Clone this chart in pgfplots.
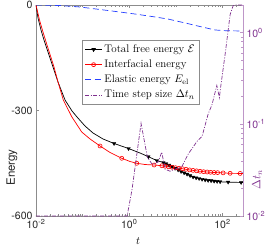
\documentclass[border=0pt]{standalone}
\usepackage{fontspec}
\setsansfont{TeX Gyre Heros}
\usepackage{pgfplots}
\pgfplotsset{compat=1.18}
\definecolor{mpurple}{rgb}{0.494,0.184,0.556}
\definecolor{rpurple}{RGB}{190,150,200}
\definecolor{axgray}{gray}{0.55}
\definecolor{tkgray}{gray}{0.15}
\definecolor{mblue}{rgb}{0.15,0.25,1}
\begin{document}
\begin{tikzpicture}
\path[use as bounding box] (-36pt,-33pt) rectangle (234pt,216pt);
\begin{axis}[
 at={(0pt,0pt)}, anchor=south west, scale only axis, width=207pt, height=211pt,
 xmode=log, xmin=0.01, xmax=275, ymin=-600, ymax=0,
 xtick={0.01,1,100}, xticklabels={10\textsuperscript{-2},10\textsuperscript{0},10\textsuperscript{2}},
 minor xtick={0.02,0.03,0.04,0.05,0.06,0.07,0.08,0.09,0.1,0.2,0.3,0.4,0.5,0.6,0.7,0.8,0.9,2,3,4,5,6,7,8,9,10,20,30,40,50,60,70,80,90,200},
 ytick={-600,-300,0}, yticklabels={-600,-300,0},
 ytick pos=left,
 tick align=inside,
 axis line style={axgray, line width=0.5pt},
 major tick style={axgray, line width=0.5pt}, minor tick style={axgray, line width=0.4pt},
 major tick length=3pt, minor tick length=1.8pt,
 tick label style={font=\sffamily\fontsize{10.5}{12}\selectfont, text=tkgray},
 xlabel={$t$}, xlabel style={at={(rel axis cs:0.493,-0.118)}, anchor=center, font=\fontsize{11}{13}\selectfont},
 ylabel={Energy}, ylabel style={at={(rel axis cs:-0.116,0.23)}, anchor=center, font=\sffamily\fontsize{11.5}{13}\selectfont, text=tkgray},
 legend style={at={(0.222,0.834)}, anchor=north west, draw=axgray, fill=white, font=\fontsize{11}{13}\selectfont, inner sep=2.5pt, row sep=2pt, line width=0.5pt},
 legend cell align=left,
]
\addplot[black, line width=0.7pt, forget plot] coordinates {(0.01,0) (0.01104,-37.0) (0.0128,-71.1) (0.01485,-99.5) (0.01809,-133.6) (0.02317,-176.3) (0.02966,-219.0) (0.0419,-270.1) (0.05923,-301.4) (0.0758,-318.5) (0.1126,-344.1) (0.1672,-364.0) (0.2741,-381.0) (0.4719,-393.8) (0.966,-408.1) (1.706,-420.9) (2.570,-431.4) (3.891,-442.2) (5.393,-447.9) (7.508,-456.4) (12.31,-472.0) (23.39,-489.1) (38.35,-496.2) (62.85,-500.5) (103.0,-503.3) (275,-504.7)};
\addplot[black, only marks, mark=triangle*, mark size=2pt, mark options={rotate=180}, forget plot] coordinates {(0.4719,-393.8) (0.966,-408.1) (2.570,-431.4) (3.891,-442.2) (5.393,-447.9) (6.163,-451.3) (7.146,-455.0) (8.288,-459.5) (9.612,-464.4) (11.15,-468.9) (12.93,-473.5) (15.00,-477.2) (17.39,-481.1) (20.17,-485.1) (23.39,-489.1) (27.13,-491.4) (31.47,-493.4) (36.49,-495.6) (42.32,-497.3) (49.09,-498.8) (56.94,-499.6) (66.03,-500.8) (76.58,-501.6) (88.81,-502.5) (131.9,-503.6) (250.6,-504.7)};
\addplot[red, line width=0.7pt, forget plot] coordinates {(0.01,0) (0.01189,-42.7) (0.01413,-76.8) (0.01722,-113.7) (0.02048,-145.0) (0.02434,-176.3) (0.02966,-219.0) (0.03854,-270.1) (0.05836,-317.6) (0.0956,-361.1) (0.1442,-381.0) (0.2362,-400.9) (0.3873,-419.4) (0.6905,-435.9) (1.040,-445.0) (1.448,-450.1) (2.183,-453.6) (3.406,-455.0) (4.983,-457.0) (7.508,-460.7) (12.31,-464.4) (20.17,-469.2) (33.06,-472.9) (54.19,-475.7) (103.0,-477.4) (145.6,-478.6) (275,-479.1)};
\addplot[red, only marks, mark=o, mark size=2pt, mark options={line width=0.6pt}, forget plot] coordinates {(0.2362,-400.9) (0.6905,-435.9) (1.448,-450.1) (3.406,-455.0) (4.983,-457.0) (5.866,-458.4) (6.970,-460.1) (8.288,-461.5) (9.854,-462.7) (11.71,-464.1) (13.93,-465.5) (16.55,-467.2) (19.68,-468.9) (23.39,-470.3) (27.81,-471.5) (33.06,-472.9) (39.30,-474.0) (46.72,-474.9) (55.54,-475.7) (66.03,-476.3) (78.50,-476.6) (103.0,-477.4) (145.6,-478.6) (238.6,-479.0)};
\addplot[mblue, line width=0.7pt, dash pattern=on 6pt off 3.5pt, forget plot] coordinates {(0.01,0) (0.0327,-1.4) (0.0879,-5.7) (0.236,-12.8) (0.635,-20) (1.33,-25.6) (3.58,-34) (6.81,-40) (15.7,-51) (36.5,-62.6) (69.3,-71) (114,-73) (275,-74)};
\addlegendimage{black, line width=0.7pt, mark=triangle*, mark size=2pt, mark options={rotate=180}}
\addlegendentry{Total free energy $\mathcal{E}$}
\addlegendimage{red, line width=0.7pt, mark=o, mark size=2pt}
\addlegendentry{Interfacial energy}
\addlegendimage{mblue, line width=0.7pt, dash pattern=on 6pt off 3.5pt}
\addlegendentry{Elastic energy $E_{\mathrm{el}}$}
\addlegendimage{mpurple, line width=0.7pt, dash pattern=on 4pt off 1.5pt on 1pt off 1.5pt}
\addlegendentry{Time step size $\Delta t_n$}
\end{axis}
\begin{axis}[
 at={(0pt,0pt)}, anchor=south west, scale only axis, width=207pt, height=211pt,
 xmode=log, xmin=0.01, xmax=275, ymode=log, ymin=0.01, ymax=2,
 axis x line=none, axis y line*=right,
 ytick={0.01,0.1,1}, yticklabels={10\textsuperscript{-2},10\textsuperscript{-1},10\textsuperscript{0}},
 minor ytick={0.02,0.03,0.04,0.05,0.06,0.07,0.08,0.09,0.2,0.3,0.4,0.5,0.6,0.7,0.8,0.9,2},
 tick align=inside,
 y axis line style={rpurple, line width=0.5pt, -},
 major tick style={rpurple, line width=0.5pt}, minor tick style={rpurple, line width=0.4pt},
 major tick length=3pt, minor tick length=1.8pt,
 tick label style={font=\sffamily\fontsize{10.5}{12}\selectfont, text=mpurple},
 ylabel={$\Delta t_n$}, ylabel style={at={(rel axis cs:1.068,0.171)}, anchor=center, font=\fontsize{11.5}{13}\selectfont, text=mpurple},
 clip=false,
]
\addplot[mpurple, line width=0.7pt, dash pattern=on 4pt off 1.5pt on 1pt off 1.5pt] coordinates {(0.01,0.01) (0.90,0.01) (1.15,0.0196) (1.79,0.1025) (2.45,0.0437) (3.09,0.0367) (4.15,0.0387) (4.98,0.0497) (5.86,0.0324) (7.5,0.0308) (13.6,0.0349) (18.3,0.0472) (28.5,0.0653) (36.5,0.0741) (49,0.1285) (59.8,0.165) (75.5,0.265) (85.8,0.196) (91,0.252) (113.6,0.577) (145.6,1.57) (168.7,1.96) (186,2.0) (275,2.0)};
\end{axis}
\end{tikzpicture}
\end{document}
